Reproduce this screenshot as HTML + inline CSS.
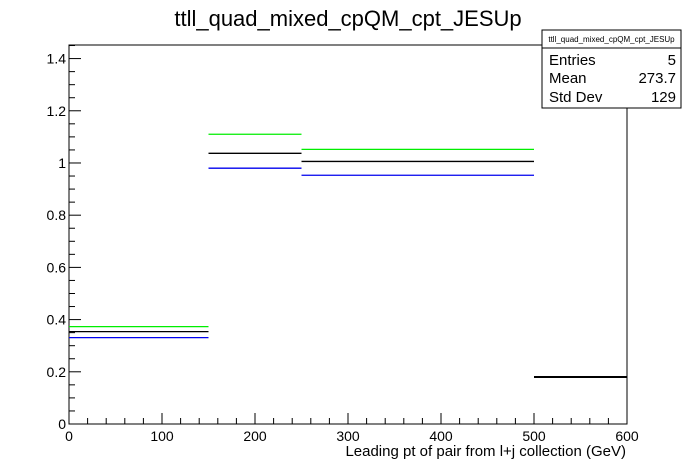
<!DOCTYPE html>
<html><head><meta charset="utf-8"><style>
body{margin:0;background:#fff;}
svg{display:block;font-family:"Liberation Sans",Arial,sans-serif;}
</style></head><body>
<svg id="c" width="696" height="472">
<text x="348" y="26" font-size="22" text-anchor="middle">ttll_quad_mixed_cpQM_cpt_JESUp</text>
<rect x="69" y="45" width="558" height="379" fill="none" stroke="#000" stroke-width="1"/>
<g id="ticks"></g>
<g id="bars"></g>
<text x="626" y="456" font-size="15" text-anchor="end">Leading pt of pair from l+j collection (GeV)</text>
<g>
<rect x="542" y="30" width="139" height="78" fill="#fff" stroke="#000"/>
<line x1="542" y1="48" x2="681" y2="48" stroke="#000"/>
<text x="611.5" y="42" font-size="8" text-anchor="middle">ttll_quad_mixed_cpQM_cpt_JESUp</text>
<text x="549" y="65" font-size="15">Entries</text><text x="676" y="65" font-size="15" text-anchor="end">5</text>
<text x="549" y="83" font-size="15">Mean</text><text x="676" y="83" font-size="15" text-anchor="end">273.7</text>
<text x="549" y="102" font-size="15">Std Dev</text><text x="676" y="102" font-size="15" text-anchor="end">129</text>
</g>
</svg>
<script>
const binEdges=[0,150,250,500,600];
const seriesGreen=[0.373,1.110,1.052,0.18];
const seriesBlack=[0.354,1.037,1.006,0.18];
const seriesBlue=[0.331,0.980,0.953,0.18];
const xTicks=[0,100,200,300,400,500,600];
const yTicks=[0,0.2,0.4,0.6,0.8,1,1.2,1.4];
const X0=69,X1=627,Y0=424,YT=45,XMAX=600,YMAX=1.452;
const sx=v=>X0+(X1-X0)*v/XMAX;
const sy=v=>Y0-(Y0-YT)*v/YMAX;
const NS="http://www.w3.org/2000/svg";
function mk(tag,attrs,parent){const e=document.createElementNS(NS,tag);for(const k in attrs)e.setAttribute(k,attrs[k]);parent.appendChild(e);return e;}
const tg=document.getElementById('ticks');
for(let v=0;v<=XMAX+0.01;v+=20){const maj=Math.abs(v%100)<0.01;
 const l=mk('line',{x1:sx(v),x2:sx(v),y1:Y0,y2:Y0-(maj?11:6),stroke:'#000'},tg);
 
 }
xTicks.forEach(v=>{const t=mk('text',{x:sx(v),y:Y0+17,'font-size':14,'text-anchor':'middle'},tg);t.textContent=v;
 
 });
for(let i=0;i*0.05<=YMAX;i++){const v=i*0.05;const maj=i%4===0;
 const l=mk('line',{x1:X0,x2:X0+(maj?12:6),y1:sy(v),y2:sy(v),stroke:'#000'},tg);
 
 }
yTicks.forEach(v=>{const t=mk('text',{x:X0-3,y:sy(v)+5,'font-size':14,'text-anchor':'end'},tg);t.textContent=v;
 
 });
const bg=document.getElementById('bars');
[[seriesGreen,'#00ee00','green'],[seriesBlue,'#0000ee','blue'],[seriesBlack,'#000','black']].forEach(([s,c,n])=>{
 s.forEach((v,i)=>{const l=mk('line',{x1:sx(binEdges[i]),x2:sx(binEdges[i+1]),y1:sy(v),y2:sy(v),stroke:c,'stroke-width':(i===3?2:1.3)},bg);
  
  });
});
</script>
</body></html>
